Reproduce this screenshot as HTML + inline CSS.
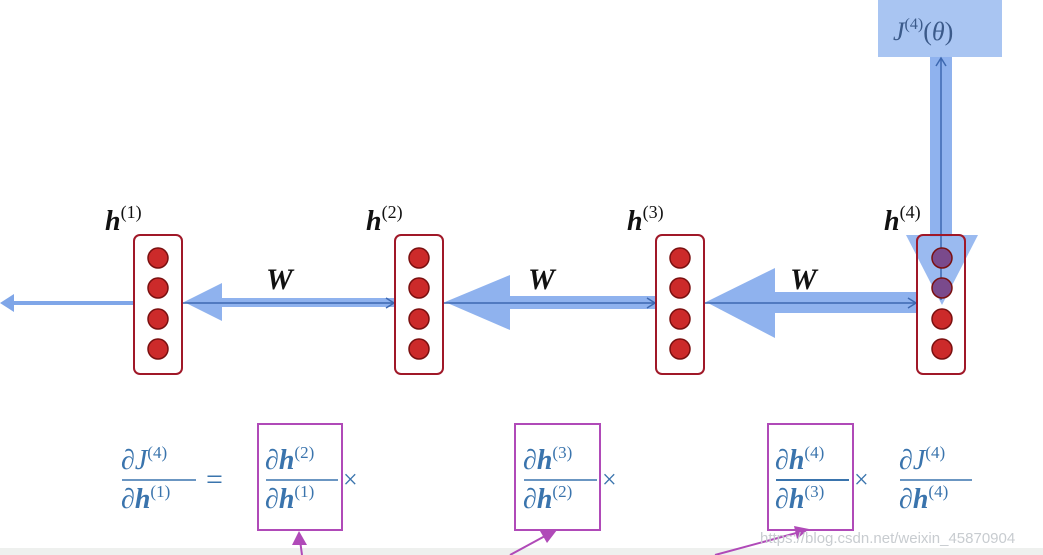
<!DOCTYPE html>
<html><head><meta charset="utf-8"><style>
html,body{margin:0;padding:0;background:#fff;}
svg{display:block;}
text{font-family:"Liberation Serif","DejaVu Serif",serif;}
</style></head><body>
<svg width="1043" height="555" viewBox="0 0 1043 555" xmlns="http://www.w3.org/2000/svg">
<rect width="1043" height="555" fill="#fff"/>
<rect x="0" y="548" width="1043" height="7" fill="#eef0ee"/>
<rect x="878" y="0" width="124" height="57" fill="#a9c5f2"/>
<text x="893" y="40" font-size="26" fill="#3b5a8a" font-style="italic">J<tspan font-size="16" dy="-11" font-style="normal">(4)</tspan><tspan dy="11" font-style="normal">(</tspan><tspan>θ</tspan><tspan font-style="normal">)</tspan></text>
<rect x="930" y="57" width="22" height="180" fill="#8fb2ee"/>
<polygon points="906,235 978,235 942,305" fill="#8fb2ee" opacity="0.9"/>
<rect x="775" y="292" width="142" height="21" fill="#8fb2ee"/>
<polygon points="706,302 775,268 775,338" fill="#8fb2ee"/>
<rect x="505" y="296" width="151" height="13" fill="#8fb2ee"/>
<polygon points="445,302 510,275 510,330" fill="#8fb2ee"/>
<rect x="215" y="298" width="180" height="9" fill="#8fb2ee"/>
<polygon points="184,302 222,283 222,321" fill="#8fb2ee"/>
<line x1="6" y1="303" x2="134" y2="303" stroke="#7fa6e8" stroke-width="4"/>
<polygon points="0,303 14,294 14,312" fill="#7fa6e8"/>
<g stroke="#3d68b0" stroke-width="1.5" fill="none">
<line x1="182" y1="303" x2="394" y2="303"/><polyline points="386,298 394,303 386,308"/>
<line x1="443" y1="303" x2="655" y2="303"/><polyline points="647,298 655,303 647,308"/>
<line x1="704" y1="303" x2="916" y2="303"/><polyline points="908,298 916,303 908,308"/>
<line x1="941" y1="300" x2="941" y2="58"/><polyline points="936,66 941,58 946,66"/>
</g>
<g stroke="#a01828" stroke-width="2">
<rect x="134" y="235" width="48" height="139" rx="6" fill="none"/>
<rect x="395" y="235" width="48" height="139" rx="6" fill="none"/>
<rect x="656" y="235" width="48" height="139" rx="6" fill="none"/>
<rect x="917" y="235" width="48" height="139" rx="6" fill="none"/>
</g>
<g fill="#cc2a2a" stroke="#7a1010" stroke-width="1.5">
<circle cx="158" cy="258" r="10"/><circle cx="158" cy="288" r="10"/><circle cx="158" cy="319" r="10"/><circle cx="158" cy="349" r="10"/>
<circle cx="419" cy="258" r="10"/><circle cx="419" cy="288" r="10"/><circle cx="419" cy="319" r="10"/><circle cx="419" cy="349" r="10"/>
<circle cx="680" cy="258" r="10"/><circle cx="680" cy="288" r="10"/><circle cx="680" cy="319" r="10"/><circle cx="680" cy="349" r="10"/>
<circle cx="942" cy="319" r="10"/><circle cx="942" cy="349" r="10"/>
<circle cx="942" cy="258" r="10" fill="#7a4a8c"/><circle cx="942" cy="288" r="10" fill="#7a4a8c"/>
</g>
<g fill="#111">
<text x="105" y="230" font-size="28" font-weight="bold" font-style="italic">h<tspan font-size="18" dy="-12" font-weight="normal" font-style="normal">(1)</tspan></text>
<text x="366" y="230" font-size="28" font-weight="bold" font-style="italic">h<tspan font-size="18" dy="-12" font-weight="normal" font-style="normal">(2)</tspan></text>
<text x="627" y="230" font-size="28" font-weight="bold" font-style="italic">h<tspan font-size="18" dy="-12" font-weight="normal" font-style="normal">(3)</tspan></text>
<text x="884" y="230" font-size="28" font-weight="bold" font-style="italic">h<tspan font-size="18" dy="-12" font-weight="normal" font-style="normal">(4)</tspan></text>
<text x="266" y="289" font-size="30" font-weight="bold" font-style="italic">W</text>
<text x="528" y="289" font-size="30" font-weight="bold" font-style="italic">W</text>
<text x="790" y="289" font-size="30" font-weight="bold" font-style="italic">W</text>
</g>
<g fill="#3a74ad" font-size="28">
<text x="121" y="469">∂<tspan font-style="italic">J</tspan><tspan font-size="17" dy="-11">(4)</tspan></text>
<line x1="122" y1="480" x2="196" y2="480" stroke="#3a74ad" stroke-width="1.5"/>
<text x="121" y="508">∂<tspan font-style="italic" font-weight="bold">h</tspan><tspan font-size="17" dy="-11">(1)</tspan></text>
<text x="206" y="489" font-size="30">=</text>

<text x="265" y="469">∂<tspan font-style="italic" font-weight="bold">h</tspan><tspan font-size="17" dy="-11">(2)</tspan></text>
<line x1="266" y1="480" x2="338" y2="480" stroke="#3a74ad" stroke-width="1.5"/>
<text x="265" y="508">∂<tspan font-style="italic" font-weight="bold">h</tspan><tspan font-size="17" dy="-11">(1)</tspan></text>
<text x="343" y="488" font-size="26">×</text>

<text x="523" y="469">∂<tspan font-style="italic" font-weight="bold">h</tspan><tspan font-size="17" dy="-11">(3)</tspan></text>
<line x1="524" y1="480" x2="597" y2="480" stroke="#3a74ad" stroke-width="1.5"/>
<text x="523" y="508">∂<tspan font-style="italic" font-weight="bold">h</tspan><tspan font-size="17" dy="-11">(2)</tspan></text>
<text x="602" y="488" font-size="26">×</text>

<text x="775" y="469">∂<tspan font-style="italic" font-weight="bold">h</tspan><tspan font-size="17" dy="-11">(4)</tspan></text>
<line x1="776" y1="480" x2="849" y2="480" stroke="#3a74ad" stroke-width="2"/>
<text x="775" y="508">∂<tspan font-style="italic" font-weight="bold">h</tspan><tspan font-size="17" dy="-11">(3)</tspan></text>
<text x="854" y="488" font-size="26">×</text>

<text x="899" y="469">∂<tspan font-style="italic">J</tspan><tspan font-size="17" dy="-11">(4)</tspan></text>
<line x1="900" y1="480" x2="972" y2="480" stroke="#3a74ad" stroke-width="1.5"/>
<text x="899" y="508">∂<tspan font-style="italic" font-weight="bold">h</tspan><tspan font-size="17" dy="-11">(4)</tspan></text>
</g>
<g stroke="#b04ab8" stroke-width="2" fill="none">
<rect x="258" y="424" width="84" height="106"/>
<rect x="515" y="424" width="85" height="106"/>
<rect x="768" y="424" width="85" height="106"/>
<line x1="302" y1="555" x2="300" y2="540"/>
<line x1="510" y1="555" x2="545" y2="536"/>
<line x1="715" y1="555" x2="800" y2="532"/>
</g>
<g fill="#b04ab8">
<polygon points="299,531 292,545 307,545"/>
<polygon points="557,530 540,531 547,543"/>
<polygon points="809,529 794,526 797,539"/>
</g>
<text x="760" y="543" style="font-family:'Liberation Sans',sans-serif;font-size:15px" fill="#c8ccd0">https://blog.csdn.net/weixin_45870904</text>
</svg>
</body></html>
